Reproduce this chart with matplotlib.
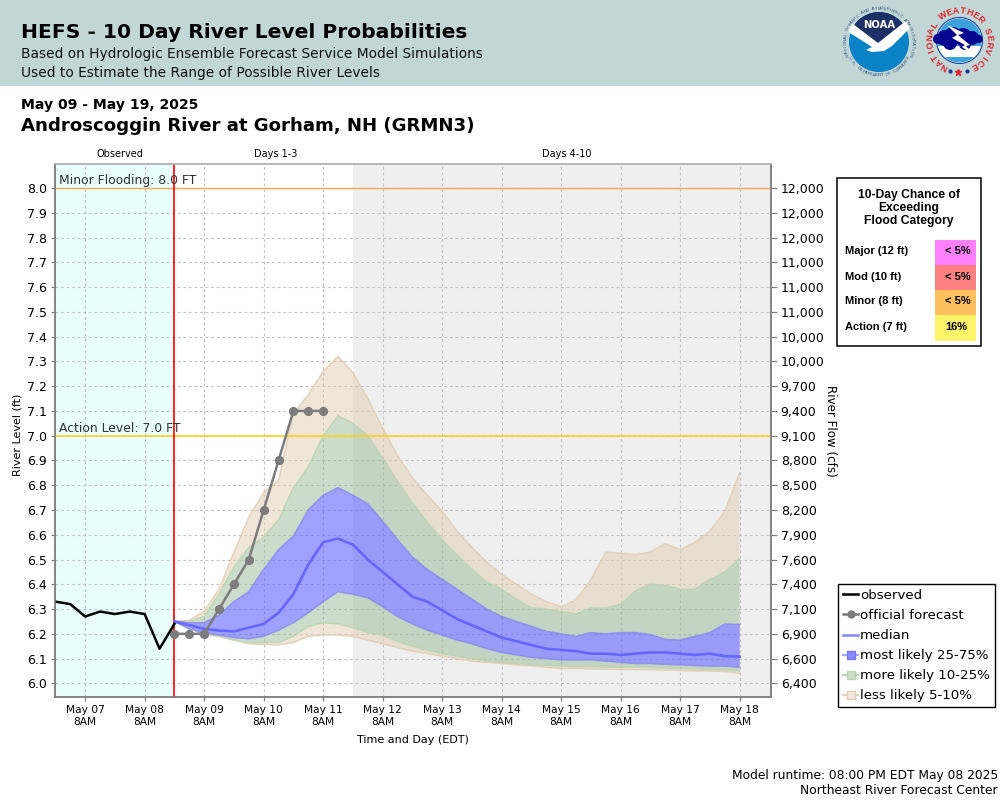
import numpy as np
import pandas as pd
import matplotlib
matplotlib.use("Agg")
import matplotlib.pyplot as plt
from matplotlib.lines import Line2D
from matplotlib.patches import Rectangle, Circle, Polygon

# ---------- data ----------
title_main = "HEFS - 10 Day River Level Probabilities"
subtitle_1 = "Based on Hydrologic Ensemble Forecast Service Model Simulations"
subtitle_2 = "Used to Estimate the Range of Possible River Levels"
date_range_text = "May 09 - May 19, 2025"
station_text = "Androscoggin River at Gorham, NH (GRMN3)"

obs_times = pd.date_range("2025-05-06 20:00", periods=9, freq="6h")
observed = [6.33, 6.32, 6.27, 6.29, 6.28, 6.29, 6.28, 6.14, 6.24]

fcst_times = pd.date_range("2025-05-08 20:00", periods=39, freq="6h")
official_times = pd.date_range("2025-05-08 20:00", periods=11, freq="6h")
official = [6.2, 6.2, 6.2, 6.3, 6.4, 6.5, 6.7, 6.9, 7.1, 7.1, 7.1]

p95 = [6.25, 6.255, 6.29, 6.38, 6.53, 6.67, 6.77, 6.82, 7.09, 7.165, 7.26, 7.32, 7.255,
       7.15, 7.03, 6.92, 6.83, 6.76, 6.695, 6.615, 6.55, 6.49, 6.44, 6.40, 6.36, 6.33,
       6.31, 6.337, 6.42, 6.53, 6.525, 6.52, 6.53, 6.565, 6.54, 6.57, 6.615, 6.695, 6.85]
p90 = [6.25, 6.25, 6.27, 6.36, 6.47, 6.55, 6.59, 6.66, 6.79, 6.875, 7.0, 7.08, 7.05,
       7.0, 6.91, 6.815, 6.73, 6.65, 6.58, 6.52, 6.46, 6.41, 6.38, 6.34, 6.305, 6.30,
       6.29, 6.28, 6.305, 6.305, 6.32, 6.375, 6.40, 6.395, 6.38, 6.38, 6.42, 6.45, 6.505]
p75 = [6.25, 6.245, 6.245, 6.275, 6.33, 6.37, 6.46, 6.54, 6.595, 6.70, 6.76, 6.79, 6.76,
       6.725, 6.655, 6.58, 6.51, 6.46, 6.42, 6.38, 6.34, 6.30, 6.27, 6.25, 6.23, 6.21,
       6.20, 6.19, 6.205, 6.20, 6.205, 6.205, 6.197, 6.178, 6.175, 6.19, 6.205, 6.24, 6.238]
median = [6.25, 6.235, 6.22, 6.213, 6.21, 6.225, 6.24, 6.285, 6.36, 6.48, 6.57, 6.585, 6.56,
          6.50, 6.45, 6.40, 6.35, 6.33, 6.295, 6.26, 6.235, 6.21, 6.185, 6.17, 6.155, 6.14,
          6.135, 6.13, 6.12, 6.12, 6.115, 6.12, 6.125, 6.125, 6.12, 6.115, 6.12, 6.11, 6.108]
p25 = [6.25, 6.22, 6.205, 6.195, 6.185, 6.18, 6.19, 6.215, 6.245, 6.285, 6.33, 6.37, 6.36,
       6.345, 6.31, 6.27, 6.24, 6.215, 6.195, 6.175, 6.16, 6.14, 6.125, 6.115, 6.105, 6.10,
       6.095, 6.095, 6.095, 6.09, 6.085, 6.08, 6.08, 6.077, 6.075, 6.072, 6.07, 6.07, 6.065]
p10 = [6.25, 6.22, 6.20, 6.19, 6.175, 6.165, 6.165, 6.165, 6.19, 6.23, 6.245, 6.24, 6.225,
       6.205, 6.195, 6.17, 6.15, 6.135, 6.12, 6.11, 6.10, 6.09, 6.085, 6.08, 6.075, 6.072,
       6.07, 6.068, 6.067, 6.066, 6.065, 6.065, 6.064, 6.062, 6.06, 6.058, 6.056, 6.054, 6.05]
p5 = [6.25, 6.22, 6.20, 6.19, 6.175, 6.16, 6.157, 6.155, 6.165, 6.19, 6.195, 6.195, 6.19,
      6.175, 6.16, 6.145, 6.13, 6.12, 6.11, 6.10, 6.09, 6.085, 6.08, 6.075, 6.07, 6.065,
      6.06, 6.06, 6.058, 6.057, 6.056, 6.055, 6.055, 6.053, 6.052, 6.05, 6.05, 6.048, 6.04]

level_ticks = [6.0, 6.1, 6.2, 6.3, 6.4, 6.5, 6.6, 6.7, 6.8, 6.9, 7.0,
               7.1, 7.2, 7.3, 7.4, 7.5, 7.6, 7.7, 7.8, 7.9, 8.0]
flow_labels = ["6,400", "6,600", "6,900", "7,100", "7,400", "7,600", "7,900", "8,200",
               "8,500", "8,800", "9,100", "9,400", "9,700", "10,000", "10,000", "11,000",
               "11,000", "11,000", "12,000", "12,000", "12,000"]

day_ticks = pd.date_range("2025-05-07 08:00", "2025-05-18 08:00", freq="D")
day_labels = [f"May {d.day:02d}\n8AM" for d in day_ticks]

minor_level = 8.0
action_level = 7.0
now_time = pd.Timestamp("2025-05-08 20:00")
days4_start = pd.Timestamp("2025-05-11 20:00")
x_start = pd.Timestamp("2025-05-06 19:50")
x_end = pd.Timestamp("2025-05-18 20:38")

table_title = ["10-Day Chance of", "Exceeding", "Flood Category"]
table_rows = ["Major (12 ft)", "Mod (10 ft)", "Minor (8 ft)", "Action (7 ft)"]
table_vals = ["< 5%", "< 5%", "< 5%", "16%"]
table_cols = ["#FF80FF", "#FF8080", "#FFBF5C", "#FFF56B"]

# ---------- styles ----------
BLUE, GREEN, TAN = "#6666FF", "#99BB99", "#E3CDB4"
SPINE = "#808080"
sans = "DejaVu Sans"
arial = "Liberation Sans"

fig = plt.figure(figsize=(10, 8), dpi=100, facecolor="white")

# page layer in pixel coordinates
pg = fig.add_axes([0, 0, 1, 1], zorder=-1)
pg.set_xlim(0, 1000)
pg.set_ylim(800, 0)
pg.axis("off")

pg.add_patch(Rectangle((0, 0), 1000, 86, fc="#C1D6D5", ec="none"))


def T(x, y, s, size, weight="normal", ha="left", color="black", family=sans, **kw):
    return pg.text(x, y, s, fontsize=size, fontweight=weight, ha=ha, va="center",
                   color=color, family=family, **kw)


T(21, 33, title_main, 14.6, "bold")
T(21, 54, subtitle_1, 9.9, color="#111111")
T(21, 73, subtitle_2, 9.9, color="#111111")
T(21, 105, date_range_text, 10.1, "bold")
T(21, 126, station_text, 13.1, "bold")
T(120, 154, "Observed", 7, ha="center")
T(276, 154, "Days 1-3", 7, ha="center")
T(567, 154, "Days 4-10", 7, ha="center")
T(18, 435, "River Level (ft)", 8, ha="center", rotation=90)
T(831, 431, "River Flow (cfs)", 8.6, ha="center", rotation=270)
T(413, 740, "Time and Day (EDT)", 8, ha="center")
T(998, 775, "Model runtime: 08:00 PM EDT May 08 2025", 8.8, ha="right")
T(998, 791, "Northeast River Forecast Center", 8.8, ha="right")


def arc_text(cx, cy, r, s, a0, a1, size, color, weight="normal", bottom=False):
    angs = np.linspace(a0, a1, len(s))
    for ch, a in zip(s, angs):
        rad = np.radians(a)
        if bottom:
            px, py, rot = cx + r * np.sin(rad), cy + r * np.cos(rad), a
        else:
            px, py, rot = cx + r * np.sin(rad), cy - r * np.cos(rad), -a
        pg.text(px, py, ch, fontsize=size, color=color, fontweight=weight, family=arial,
                ha="center", va="center", rotation=rot, rotation_mode="anchor")


# NOAA emblem
ncx, ncy = 879, 42
inner = Circle((ncx, ncy), 30, fc="#0A82C8", ec="none")
pg.add_patch(inner)
navy = Polygon([(845, 5), (915, 5), (915, 18), (878, 43), (845, 22)], fc="#1C2F66", ec="none")
pg.add_patch(navy)
navy.set_clip_path(inner)
bird = Polygon([(848, 28), (853, 24), (878, 43), (907, 20), (910, 28), (892, 46), (884, 51),
                (872, 52), (866, 50), (872, 47), (850, 33)], fc="white", ec="none")
pg.add_patch(bird)
pg.text(879, 25, "NOAA", fontsize=7.2, fontweight="bold", color="white", ha="center",
        va="center", family=sans)
arc_text(ncx, ncy, 33.5, "NATIONAL OCEANIC AND ATMOSPHERIC ADMINISTRATION", -112, 112, 3, "#2C4A77")
arc_text(ncx, ncy, 33.5, "U.S. DEPARTMENT OF COMMERCE", -62, 62, 3, "#2C4A77", bottom=True)

# NWS emblem
wcx, wcy = 959.5, 40.5
pg.add_patch(Circle((wcx, wcy), 23, fc="#FFFFFF", ec="#1C3FA0", lw=0.8))
disc = Circle((wcx, wcy), 22, fc="#3BA3D9", ec="none")
pg.add_patch(disc)
white_low = Rectangle((930, 46), 60, 11, fc="white", ec="none")
pg.add_patch(white_low)
white_low.set_clip_path(disc)
cloud = [(945, 38, 8), (953, 36, 9), (963, 37, 9), (972, 38, 7), (950, 43, 7), (965, 44, 6), (979, 39, 4), (938, 39, 5)]
for cx_, cy_, r_ in cloud:
    pg.add_patch(Circle((cx_, cy_), r_, fc="#06058F", ec="none"))
pg.add_patch(Polygon([(947, 25), (964, 33), (958, 35), (970, 45), (966, 46), (976, 57), (962, 47),
                      (965, 45), (952, 38), (957, 35)], fc="white", ec="none"))
arc_text(wcx, wcy, 29.5, "NATIONAL WEATHER SERVICE", -150, 150, 6.5, "#E0262B", "bold")
pg.plot([949.5, 967], [71, 71], ls="none", marker="o", ms=2, color="#2030A0")
pg.plot([958], [72], ls="none", marker="*", ms=5, color="#E0262B")

# main chart
ax = fig.add_axes([55 / 1000, 1 - 697 / 800, 716 / 1000, 533 / 800], zorder=1)
ax.patch.set_alpha(0)
ax.set_xlim(x_start, x_end)
ax.set_ylim(5.945, 8.097)
ax.axvspan(x_start, now_time, fc="#E9FFFF", ec="none", zorder=0)
ax.axvspan(days4_start, x_end, fc="#EFEFEF", ec="none", zorder=0)
ax.set_axisbelow(True)
ax.grid(True, color="#C2C2C2", ls=(0, (2.5, 2.5)), lw=0.8)

ax.fill_between(fcst_times, p90, p95, fc=TAN, alpha=0.5, lw=0, zorder=2)
ax.fill_between(fcst_times, p5, p10, fc=TAN, alpha=0.5, lw=0, zorder=2)
ax.fill_between(fcst_times, p75, p90, fc=GREEN, alpha=0.5, lw=0, zorder=2)
ax.fill_between(fcst_times, p10, p25, fc=GREEN, alpha=0.5, lw=0, zorder=2)
ax.fill_between(fcst_times, p25, p75, fc=BLUE, alpha=0.62, lw=0, zorder=2)
for series, col in ((p95, TAN), (p5, TAN), (p90, "#BAD4B2"), (p10, "#BAD4B2"), (p75, "#8A8AEE"), (p25, "#8A8AEE")):
    ax.plot(fcst_times, series, color=col, lw=1.1, alpha=0.85, zorder=3)

ax.axhline(minor_level, color="#FFA64D", lw=1.0, zorder=4)
ax.axhline(action_level, color="#FFD11A", lw=1.2, zorder=4)
ax.axvline(now_time, color="#FF0000", lw=1.2, zorder=4.5)
ax.text(0.0056, minor_level + 0.003, "Minor Flooding: 8.0 FT", transform=ax.get_yaxis_transform(),
        fontsize=8.9, color="#333333", family=sans, va="bottom", zorder=5)
ax.text(0.0056, action_level + 0.003, "Action Level: 7.0 FT", transform=ax.get_yaxis_transform(),
        fontsize=8.9, color="#333333", family=sans, va="bottom", zorder=5)

ax.plot(fcst_times, median, color=BLUE, lw=1.9, zorder=5)
ax.plot(official_times, official, color="#7C7C7C", lw=1.8, marker="o", ms=5.6, zorder=6)
ax.plot(obs_times, observed, color="black", lw=1.8, zorder=7)

ax.set_yticks(level_ticks)
ax.set_yticklabels([f"{v:.1f}" for v in level_ticks], fontsize=9, family=sans)
ax.set_xticks(day_ticks)
ax.set_xticklabels(day_labels, fontsize=7.7, family=sans, linespacing=1.3)
ax.tick_params(axis="both", length=3, width=0.9, color=SPINE, pad=2.5)

axr = ax.twinx()
axr.set_ylim(ax.get_ylim())
axr.set_yticks(level_ticks)
axr.set_yticklabels(flow_labels, fontsize=9, family=sans)
axr.tick_params(axis="y", length=4, width=0.9, color=SPINE, pad=3)
for a in (ax, axr):
    for s in a.spines.values():
        s.set_color(SPINE if s.spine_type != "top" else "#B4B4B4")
        s.set_linewidth(1.1)

# flood category table
pg.add_patch(Rectangle((836.5, 177.5), 144, 168, fc="white", ec="black", lw=1.1))
for i, line in enumerate(table_title):
    T(909, 195 + 13 * i, line, 8.7, "bold", ha="center", family=arial)
cell_top = [240, 265, 290, 315]
cell_h = [25, 25, 25, 26]
for i, (lab, val, col) in enumerate(zip(table_rows, table_vals, table_cols)):
    pg.add_patch(Rectangle((935, cell_top[i]), 41, cell_h[i], fc=col, ec="none"))
    T(845, cell_top[i] + 11.5, lab, 8, "bold", family=arial)
    T(945, cell_top[i] + 11.5, val, 8, "bold", family=arial)

# legend
handles = [
    Line2D([], [], color="black", lw=1.8),
    Line2D([], [], color="#7C7C7C", lw=1.8, marker="o", ms=5),
    Line2D([], [], color=BLUE, lw=1.8, alpha=0.8),
    Line2D([], [], color="#A8A8FF", lw=1.6, marker="s", ms=5.5, mfc="#8888FF", mec="#7777EE"),
    Line2D([], [], color="#BAD4B2", lw=1.6, marker="s", ms=5.5, mfc="#CCDDC6", mec="#B8D4B0"),
    Line2D([], [], color="#E6D4C0", lw=1.6, marker="s", ms=5.5, mfc="#F1E8DD", mec="#E3CDB4"),
]
labels = ["observed", "official forecast", "median", "most likely 25-75%",
          "more likely 10-25%", "less likely 5-10%"]
fig.legend(handles, labels, loc="upper left", bbox_to_anchor=(838 / 1000, 1 - 584 / 800),
           borderaxespad=0, frameon=True, fancybox=False, framealpha=1,
           edgecolor="black", handlelength=1.15, handletextpad=0.12, borderpad=0.38,
           labelspacing=0.53, prop={"family": sans, "size": 9.6})

fig.savefig("out.png", dpi=100)
